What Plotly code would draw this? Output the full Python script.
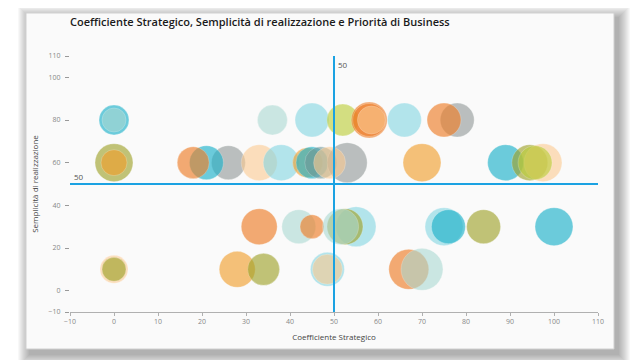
import plotly.graph_objects as go

# ---- data ----
coeff_strategico = [0, 0, 36, 45, 52, 78, 75, 58, 58, 58.5, 66,
                    0, 0, 26, 21, 18, 33, 38, 44, 45, 47, 53, 49, 70, 89, 94.5, 97.5, 95.7,
                    33, 42, 45, 55, 52.5, 51.5, 75, 76, 84, 100,
                    0, 0, 28, 34, 48.5, 48.5, 67, 70]
semplicita = [80, 80, 80, 80, 80, 80, 80, 80, 80, 80, 80,
              60, 60, 60, 60, 60, 60, 60, 60, 60, 60, 60, 60, 60, 60, 60, 60, 60,
              30, 30, 30, 30, 30, 30, 30, 30, 30, 30,
              10, 10, 10, 10, 10, 10, 10, 10]
priorita = [30, 24, 30, 34, 32, 34, 34, 36, 33, 28, 34,
            38, 26, 34, 34, 32, 36, 36, 30, 32, 32, 40, 32, 38, 36, 36, 38, 34,
            36, 34, 24, 40, 36, 36, 38, 34, 34, 38,
            28, 24, 36, 32, 34, 30, 40, 42]
gruppo = ["cyan", "lightteal", "lightteal", "lightcyan", "lime", "gray", "orange", "orange", "orange", "peach", "lightcyan",
          "olive", "orangeyellow", "gray", "cyan", "orange", "peach", "lightcyan", "orangeyellow", "cyan", "grayteal", "gray", "peach", "orangeyellow", "cyan", "olive", "peach", "lime",
          "orange", "lightteal", "orange", "lightcyan", "olive", "lightteal", "lightcyan", "cyan", "olive", "cyan",
          "peach", "olive", "orangeyellow", "olive", "lightcyan", "peach", "orange", "lightteal"]

x_ticks = [-10, 0, 10, 20, 30, 40, 50, 60, 70, 80, 90, 100, 110]
y_ticks = [-10, 0, 20, 40, 60, 80, 100, 110]
soglia_x = 50
soglia_y = 50

# ---- style ----
palette = {
    "orange": "rgba(238,126,40,0.92)",
    "orangeyellow": "rgba(241,158,46,0.9)",
    "peach": "rgba(252,202,145,0.85)",
    "lightteal": "rgba(170,216,209,0.85)",
    "lightcyan": "rgba(130,213,226,0.85)",
    "cyan": "rgba(30,178,202,0.92)",
    "gray": "rgba(142,150,149,0.85)",
    "grayteal": "rgba(110,150,150,0.85)",
    "olive": "rgba(158,162,42,0.9)",
    "lime": "rgba(188,206,60,0.9)",
}
colors = [palette[g] for g in gruppo]
BLUE = "#1ba2e2"

# page has an 8px body margin: figure is offset by (8, 8)
OFF = 8
W, H = 640 - OFF, 360 - OFF
PL, PR, PT, PB = 70, 598, 56, 312  # plot area in page pixels
CL, CR, CT, CB = 26, 614, 13, 349   # card in page pixels

fig = go.Figure()
fig.add_trace(go.Scatter(
    x=coeff_strategico, y=semplicita, mode="markers",
    marker=dict(size=priorita, sizemode="diameter", color=colors,
                line=dict(width=1, color="rgba(255,255,255,0.3)")),
    hoverinfo="x+y", showlegend=False))

# reference lines
fig.add_trace(go.Scatter(x=[soglia_x, soglia_x], y=[y_ticks[0], y_ticks[-1]], mode="lines",
                         line=dict(color=BLUE, width=2), showlegend=False, hoverinfo="skip"))
fig.add_trace(go.Scatter(x=[x_ticks[0], x_ticks[-1]], y=[soglia_y, soglia_y], mode="lines",
                         line=dict(color=BLUE, width=2), showlegend=False, hoverinfo="skip"))

fig.add_annotation(x=soglia_x, y=y_ticks[-1], text=str(soglia_x), showarrow=False,
                   xanchor="left", yanchor="top", xshift=2, yshift=-1,
                   font=dict(size=8, color="#555"))
fig.add_annotation(x=x_ticks[0], y=soglia_y, text=str(soglia_y), showarrow=False,
                   xanchor="left", yanchor="bottom", xshift=2, yshift=0,
                   font=dict(size=8, color="#555"))

def px2x(p):
    return (p - PL) / float(PR - PL)

def py2y(p):
    return (PB - p) / float(PB - PT)

shapes = []
sx, sy = 4, 5
for i in range(12, 0, -1):
    shapes.append(dict(type="rect", xref="paper", yref="paper", layer="below",
                       x0=px2x(CL + sx - i), x1=px2x(CR + sx + i),
                       y0=py2y(CB + sy + i), y1=py2y(CT + sy - i),
                       fillcolor="rgba(0,0,0,0.028)", line=dict(width=0)))
shapes.append(dict(type="rect", xref="paper", yref="paper", layer="below",
                   x0=px2x(CL), x1=px2x(CR), y0=py2y(CB), y1=py2y(CT),
                   fillcolor="#fafafa", line=dict(color="#d0d0d0", width=1)))

fig.update_layout(
    width=W, height=H,
    margin=dict(l=PL - OFF, r=W - (PR - OFF), t=PT - OFF, b=H - (PB - OFF), autoexpand=False),
    paper_bgcolor="white", plot_bgcolor="rgba(0,0,0,0)",
    font=dict(family="Open Sans, sans-serif"),
    shapes=shapes,
    title=dict(text="Coefficiente Strategico, Semplicità di realizzazione e Priorità di Business",
               x=(PL - OFF) / W, xanchor="left", y=1 - (22 - OFF) / H, yanchor="middle",
               font=dict(size=11, color="#1a1a1a", weight=600)),
    xaxis=dict(range=[x_ticks[0], x_ticks[-1]], tickvals=x_ticks, showgrid=False, zeroline=False,
               showline=True, linecolor="#b0b0b0", linewidth=1, ticks="outside", ticklen=3,
               tickcolor="#b0b0b0", tickfont=dict(size=7, color="#888"),
               title=dict(text="Coefficiente Strategico", font=dict(size=8, color="#444"), standoff=8)),
    yaxis=dict(range=[y_ticks[0], y_ticks[-1]], tickvals=y_ticks, showgrid=False, zeroline=False,
               showline=False, ticks="outside", ticklen=4, tickcolor="#999",
               ticklabelstandoff=3,
               tickfont=dict(size=7, color="#888"),
               title=dict(text="Semplicità di realizzazione", font=dict(size=8, color="#444"), standoff=8)),
)

fig.write_html("out.html")
